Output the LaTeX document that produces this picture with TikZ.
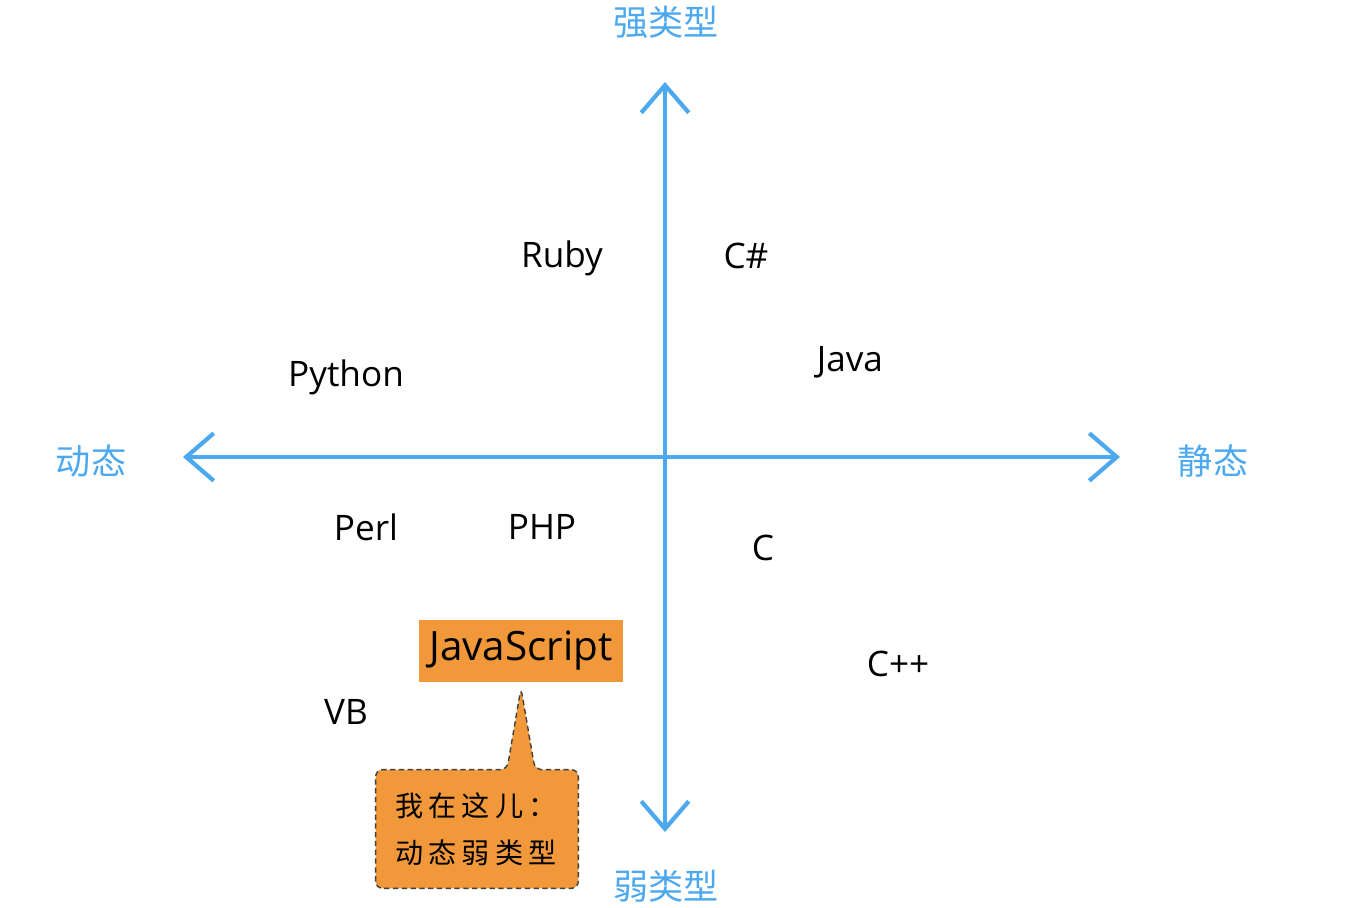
\documentclass[tikz,border=0pt]{standalone}
\usepackage{fontspec}
\setmainfont{Open Sans}
\newfontfamily\cjkfont{Noto Sans CJK SC}
\newfontfamily\notefont[LetterSpace=19]{Noto Sans CJK SC}
\usetikzlibrary{arrows.meta,backgrounds}
\definecolor{axisblue}{HTML}{4DA9EF}
\definecolor{noteorange}{HTML}{F0983A}

\begin{document}
\begin{tikzpicture}[
    x=0.02cm, y=-0.02cm,
    % assi e etichette
    axis/.style={draw=axisblue, line width=2.6pt, line cap=round,
      arrows={Straight Barb[length=0.55cm, width=0.95cm, line width=2.4pt]-Straight Barb[length=0.55cm, width=0.95cm, line width=2.4pt]}},
    dirlabel/.style={text=axisblue, font=\cjkfont\fontsize{20}{24}\selectfont},
    lang/.style={text=black, font=\fontsize{20}{24}\selectfont},
    highlight/.style={fill=noteorange, minimum width=4.08cm, minimum height=1.26cm, inner sep=0pt, font=\fontsize{23}{26}\selectfont},
    note/.style={minimum width=4.04cm, minimum height=2.36cm, text width=3.28cm, align=left, inner sep=0pt,
      font=\notefont\fontsize{16}{27}\selectfont},
    notebox/.style={fill=noteorange, draw=black!75, line width=0.8pt, dash pattern=on 3pt off 2pt, rounded corners=4pt}
  ]

  \useasboundingbox (0,0) rectangle (1356,908);

  % Assi
  \coordinate (origin) at (665,457);
  \coordinate (top) at (665,82);
  \coordinate (bottom) at (665,832);
  \coordinate (left) at (183,457);
  \coordinate (right) at (1120,457);

  \draw [axis] (bottom) -- (top);
  \draw [axis] (left) -- (right);

  \node (strong) [dirlabel] at (666,22) {强类型};
  \node (weak) [dirlabel] at (666,886) {弱类型};
  \node (dynamic) [dirlabel] at (91,461) {动态};
  \node (static) [dirlabel] at (1213,461) {静态};

  % Linguaggi
  \node (ruby) [lang] at (562,258) {Ruby};
  \node (csharp) [lang] at (746,256) {C\#};
  \node (python) [lang] at (346,377) {Python};
  \node (java) [lang] at (850,362) {Java};
  \node (perl) [lang] at (366,527) {Perl};
  \node (php) [lang] at (542,527) {PHP};
  \node (c) [lang] at (763,548) {C};
  \node (cpp) [lang] at (898,664) {C++};
  \node (vb) [lang] at (346,712) {VB};

  \node (javascript) [highlight] at (521,651) {JavaScript};

  % Nota con puntatore verso JavaScript
  \node (note) [note] at (477,829) {我在这儿：\\动态弱类型};
  \begin{scope}[on background layer]
    \draw [notebox] (note.south west) |- ([xshift=0.6cm]note.north)
      -- ([yshift=-0.1cm]javascript.south) -- ([xshift=1.16cm]note.north)
      -| (note.south east) -- cycle;
  \end{scope}

\end{tikzpicture}
\end{document}
